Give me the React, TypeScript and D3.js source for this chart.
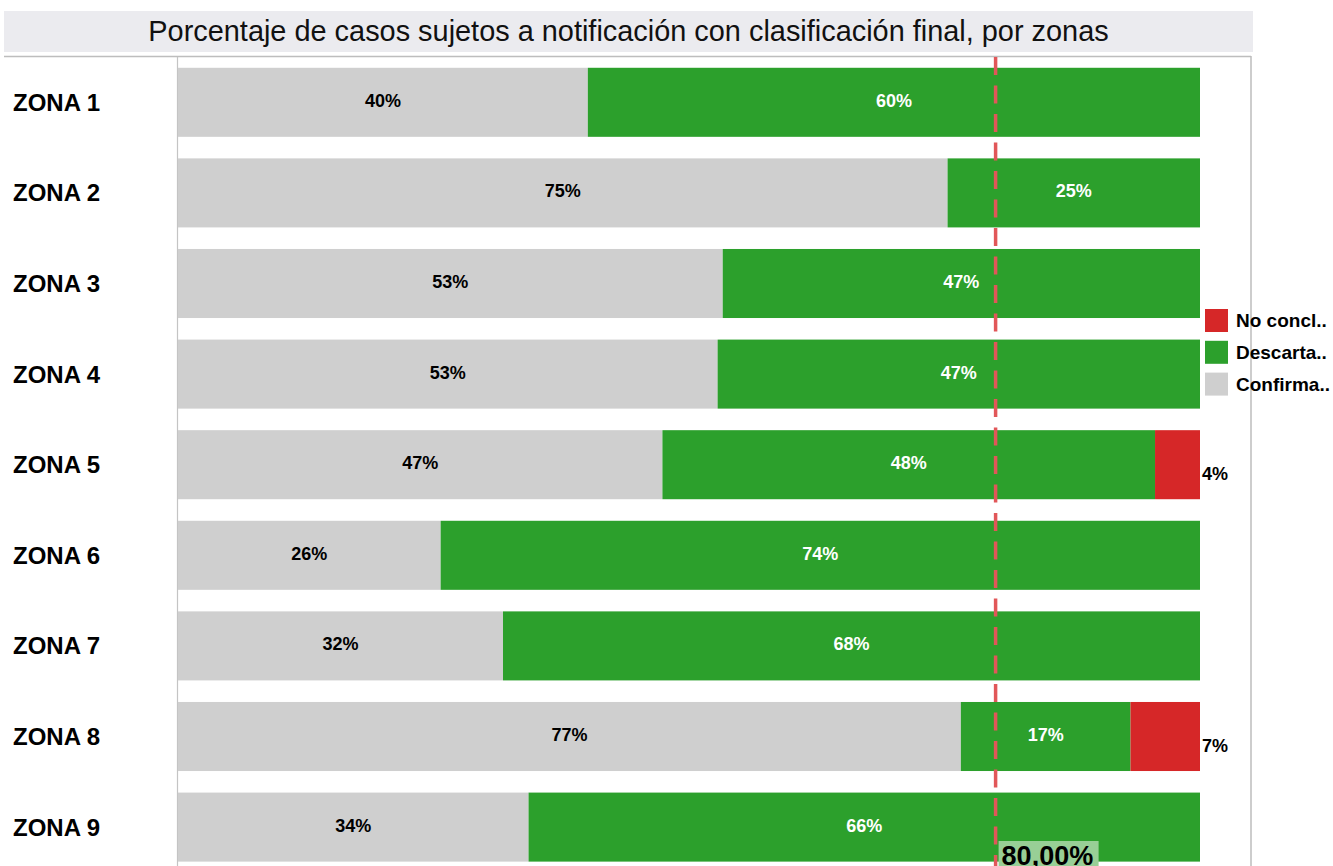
import React from "react";
import * as d3 from "d3";

const zones = ["ZONA 1", "ZONA 2", "ZONA 3", "ZONA 4", "ZONA 5", "ZONA 6", "ZONA 7", "ZONA 8", "ZONA 9"];
const confirmados = [40.1, 75.3, 53.3, 52.8, 47.4, 25.7, 31.8, 76.6, 34.3];
const descartados = [59.9, 24.7, 46.7, 47.2, 48.2, 74.3, 68.2, 16.6, 65.7];
const noConcluyentes = [0, 0, 0, 0, 4.4, 0, 0, 6.8, 0];
const legendLabels = ["No concl..", "Descarta..", "Confirma.."];
const referenceValue = 80;
const referenceLabel = "80,00%";
const title = "Porcentaje de casos sujetos a notificación con clasificación final, por zonas";

const W = 1333;
const H = 866;
const FONT = "Arial, 'Liberation Sans', sans-serif";
const colors: Record<string, string> = {
  conf: "#cfcfcf",
  desc: "#2ca02c",
  noc: "#d62728",
};

export default function App() {
  const rows = zones.map((z, i) => ({
    zone: z,
    conf: confirmados[i],
    desc: descartados[i],
    noc: noConcluyentes[i],
  }));
  const keys = ["conf", "desc", "noc"];
  const series = d3.stack<any>().keys(keys)(rows);

  const x = d3.scaleLinear().domain([0, 100]).range([178, 1200]);
  const y = d3
    .scaleBand<string>()
    .domain(zones)
    .range([57, 57 + 9 * 90.6])
    .paddingInner(0.238)
    .paddingOuter(0.119);
  const bh = y.bandwidth();

  const refX = x(referenceValue);
  const legendColors = [colors.noc, colors.desc, colors.conf];

  return (
    <svg
      width={W}
      height={H}
      style={{ position: "absolute", left: 0, top: 0, background: "#fff" }}
      fontFamily={FONT}
    >
      {/* title band */}
      <rect x={4} y={11} width={1249} height={41} fill="#ebebef" />
      <text x={628.5} y={41} textAnchor="middle" fontSize={28.9} fill="#111">
        {title}
      </text>

      {/* pane borders */}
      <line x1={4} x2={1251} y1={56.5} y2={56.5} stroke="#bdbdbd" strokeWidth={1.5} />
      <line x1={1251} x2={1251} y1={56} y2={H} stroke="#bdbdbd" strokeWidth={1.5} />
      <line x1={177.5} x2={177.5} y1={57} y2={H} stroke="#c4c4c4" strokeWidth={1.2} />

      {/* zone labels */}
      {zones.map((z) => (
        <text
          key={z}
          x={13}
          y={(y(z) as number) + bh / 2 + 8.5}
          fontSize={24}
          fontWeight="bold"
          fill="#000"
        >
          {z}
        </text>
      ))}

      {/* bars */}
      {series.map((s) => (
        <g key={s.key}>
          {s.map((d: any) => {
            const w = x(d[1]) - x(d[0]);
            if (w <= 0) return null;
            return (
              <rect
                key={d.data.zone}
                x={x(d[0])}
                y={y(d.data.zone)}
                width={w}
                height={bh}
                fill={colors[s.key]}
              />
            );
          })}
        </g>
      ))}

      {/* labels */}
      {series.map((s) => (
        <g key={"l" + s.key}>
          {s.map((d: any) => {
            const v = d[1] - d[0];
            if (v <= 0) return null;
            const cy = (y(d.data.zone) as number) + bh / 2;
            const label = Math.round(v) + "%";
            if (s.key === "noc") {
              return (
                <text
                  key={d.data.zone}
                  x={x(d[1]) + 2}
                  y={cy + 15}
                  fontSize={18}
                  fontWeight="bold"
                  fill="#000"
                >
                  {label}
                </text>
              );
            }
            return (
              <text
                key={d.data.zone}
                x={(x(d[0]) + x(d[1])) / 2}
                y={cy + 4.5}
                textAnchor="middle"
                fontSize={18}
                fontWeight="bold"
                fill={s.key === "desc" ? "#fff" : "#000"}
              >
                {label}
              </text>
            );
          })}
        </g>
      ))}

      {/* reference line */}
      <line
        x1={refX}
        x2={refX}
        y1={57}
        y2={H}
        stroke="#e15759"
        strokeWidth={3.5}
        strokeDasharray="18,10.5"
      />
      <rect x={refX + 3} y={841} width={100} height={30} fill="#98cf96" />
      <text x={refX + 6} y={865} fontSize={27} fontWeight="bold" fill="#000">
        {referenceLabel}
      </text>

      {/* legend */}
      {legendLabels.map((l, i) => (
        <g key={l} transform={`translate(1205, ${309 + i * 31.8})`}>
          <rect x={0} y={0} width={23} height={23} fill={legendColors[i]} />
          <text x={31} y={18} fontSize={19} fontWeight="bold" fill="#000">
            {l}
          </text>
        </g>
      ))}
    </svg>
  );
}
